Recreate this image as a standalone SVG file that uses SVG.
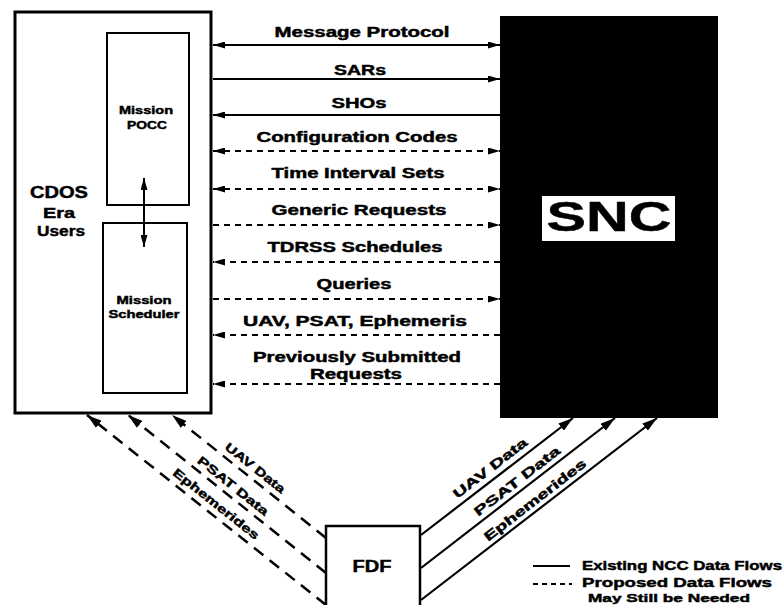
<svg xmlns="http://www.w3.org/2000/svg" width="783" height="605" viewBox="0 0 783 605">
<defs>
<style>
text{font-family:"Liberation Sans",Arial,sans-serif;font-weight:bold;fill:#000;stroke:#000;stroke-width:0.45}
.lbl{font-size:14px;text-anchor:middle}
.box{fill:#fff;stroke:#000}
.solid{stroke:#000;stroke-width:2;fill:none}
.dash{stroke:#000;stroke-width:2;fill:none;stroke-dasharray:6 5}
.ldash{stroke:#000;stroke-width:2.5;fill:none;stroke-dasharray:12 8}
.diag{stroke:#000;stroke-width:2.2;fill:none}
</style>
<marker id="ah" viewBox="0 0 12 7" refX="12" refY="3.5" markerWidth="12" markerHeight="7" markerUnits="userSpaceOnUse" orient="auto-start-reverse"><path d="M0,0 L12,3.5 L0,7 z" fill="#000"/></marker>
<marker id="ahL" viewBox="0 0 15 9" refX="15" refY="4.5" markerWidth="15" markerHeight="9" markerUnits="userSpaceOnUse" orient="auto-start-reverse"><path d="M0,0 L15,4.5 L0,9 z" fill="#000"/></marker>
</defs>
<rect width="783" height="605" fill="#fff"/>

<g id="node-cdos">
<rect class="box" x="15" y="12" width="196" height="401" stroke-width="3"/>
<text x="59" y="198" font-size="16" text-anchor="middle" textLength="58" lengthAdjust="spacingAndGlyphs">CDOS</text>
<text x="59" y="218" font-size="15" text-anchor="middle" textLength="32" lengthAdjust="spacingAndGlyphs">Era</text>
<text x="61" y="236" font-size="15" text-anchor="middle" textLength="48" lengthAdjust="spacingAndGlyphs">Users</text>
</g>

<g id="node-pocc">
<rect class="box" x="107" y="33" width="82" height="172" stroke-width="2"/>
<text x="146" y="114" font-size="10.5" text-anchor="middle" textLength="54" lengthAdjust="spacingAndGlyphs">Mission</text>
<text x="147" y="129" font-size="10.5" text-anchor="middle" textLength="40" lengthAdjust="spacingAndGlyphs">POCC</text>
</g>

<g id="node-scheduler">
<rect class="box" x="103" y="223" width="84" height="170" stroke-width="2"/>
<text x="144" y="304" font-size="10.5" text-anchor="middle" textLength="55" lengthAdjust="spacingAndGlyphs">Mission</text>
<text x="144" y="318" font-size="10.5" text-anchor="middle" textLength="71" lengthAdjust="spacingAndGlyphs">Scheduler</text>
</g>

<g id="node-snc">
<rect x="500" y="16" width="218" height="402" fill="#000"/>
<rect x="542" y="196" width="133" height="45" fill="#fff"/>
<text x="609" y="231" font-size="42" text-anchor="middle" textLength="125" lengthAdjust="spacingAndGlyphs">SNC</text>
</g>

<g id="node-fdf">
<path d="M326,612 V526 H420 V612" fill="#fff" stroke="#000" stroke-width="2.5"/>
<text x="372" y="572" font-size="16" text-anchor="middle" textLength="39" lengthAdjust="spacingAndGlyphs">FDF</text>
</g>

<g id="connectors">
<line x1="144" y1="178" x2="144" y2="247" stroke="#000" stroke-width="2" marker-start="url(#ah)" marker-end="url(#ah)"/>

<line class="solid" x1="213" y1="45" x2="500" y2="45" marker-start="url(#ah)" marker-end="url(#ah)"/>
<line class="solid" x1="213" y1="79" x2="500" y2="79" marker-end="url(#ah)"/>
<line class="solid" x1="500" y1="115" x2="213" y2="115" marker-end="url(#ah)"/>
<line class="dash" x1="213" y1="151" x2="500" y2="151" marker-start="url(#ah)" marker-end="url(#ah)"/>
<line class="dash" x1="213" y1="189" x2="500" y2="189" marker-start="url(#ah)" marker-end="url(#ah)"/>
<line class="dash" x1="213" y1="225" x2="500" y2="225" marker-end="url(#ah)"/>
<line class="dash" x1="500" y1="262" x2="213" y2="262" marker-end="url(#ah)"/>
<line class="dash" x1="213" y1="299" x2="500" y2="299" marker-end="url(#ah)"/>
<line class="dash" x1="500" y1="335" x2="213" y2="335" marker-end="url(#ah)"/>
<line class="dash" x1="500" y1="384" x2="213" y2="384" marker-end="url(#ah)"/>

<text class="lbl" x="362" y="37" textLength="175" lengthAdjust="spacingAndGlyphs">Message Protocol</text>
<text class="lbl" x="360" y="75" textLength="52" lengthAdjust="spacingAndGlyphs">SARs</text>
<text class="lbl" x="359" y="108" textLength="55" lengthAdjust="spacingAndGlyphs">SHOs</text>
<text class="lbl" x="357" y="142" textLength="201" lengthAdjust="spacingAndGlyphs">Configuration Codes</text>
<text class="lbl" x="358" y="178" textLength="173" lengthAdjust="spacingAndGlyphs">Time Interval Sets</text>
<text class="lbl" x="359" y="215" textLength="175" lengthAdjust="spacingAndGlyphs">Generic Requests</text>
<text class="lbl" x="355" y="252" textLength="175" lengthAdjust="spacingAndGlyphs">TDRSS Schedules</text>
<text class="lbl" x="354" y="289" textLength="75" lengthAdjust="spacingAndGlyphs">Queries</text>
<text class="lbl" x="355" y="326" textLength="224" lengthAdjust="spacingAndGlyphs">UAV, PSAT, Ephemeris</text>
<text class="lbl" x="357" y="362" textLength="208" lengthAdjust="spacingAndGlyphs">Previously Submitted</text>
<text class="lbl" x="356" y="379" textLength="92" lengthAdjust="spacingAndGlyphs">Requests</text>

<line class="ldash" x1="326" y1="538" x2="172" y2="415" marker-end="url(#ahL)"/>
<line class="ldash" x1="326" y1="573" x2="128" y2="415" marker-end="url(#ahL)"/>
<line class="ldash" x1="326" y1="605" x2="87" y2="415" marker-end="url(#ahL)"/>

<line class="diag" x1="421" y1="535" x2="573" y2="418" marker-end="url(#ahL)"/>
<line class="diag" x1="421" y1="568" x2="615" y2="418" marker-end="url(#ahL)"/>
<line class="diag" x1="421" y1="600" x2="657" y2="418" marker-end="url(#ahL)"/>

<g font-size="12" text-anchor="middle">
<text transform="translate(255,468) rotate(38.5)" y="4" textLength="73" lengthAdjust="spacingAndGlyphs">UAV Data</text>
<text transform="translate(233,486) rotate(38.5)" y="4" textLength="87" lengthAdjust="spacingAndGlyphs">PSAT Data</text>
<text transform="translate(216,504) rotate(38.5)" y="4" textLength="106" lengthAdjust="spacingAndGlyphs">Ephemerides</text>
</g>
<g font-size="13" text-anchor="middle">
<text transform="translate(490,468) rotate(-37.7)" y="4.5" textLength="90" lengthAdjust="spacingAndGlyphs">UAV Data</text>
<text transform="translate(517,481) rotate(-37.7)" y="4.5" textLength="105" lengthAdjust="spacingAndGlyphs">PSAT Data</text>
<text transform="translate(535,500) rotate(-37.7)" y="4.5" textLength="125" lengthAdjust="spacingAndGlyphs">Ephemerides</text>
</g>
</g>

<g id="legend">
<line x1="533" y1="566" x2="570" y2="566" stroke="#000" stroke-width="2"/>
<line x1="533" y1="584" x2="572" y2="584" stroke="#000" stroke-width="1.8" stroke-dasharray="5 4"/>
<text x="582" y="570" font-size="12.5" textLength="200" lengthAdjust="spacingAndGlyphs">Existing NCC Data Flows</text>
<text x="582" y="587" font-size="12.5" textLength="190" lengthAdjust="spacingAndGlyphs">Proposed Data Flows</text>
<text x="588" y="602" font-size="11.5" textLength="162" lengthAdjust="spacingAndGlyphs">May Still be Needed</text>
</g>
</svg>
